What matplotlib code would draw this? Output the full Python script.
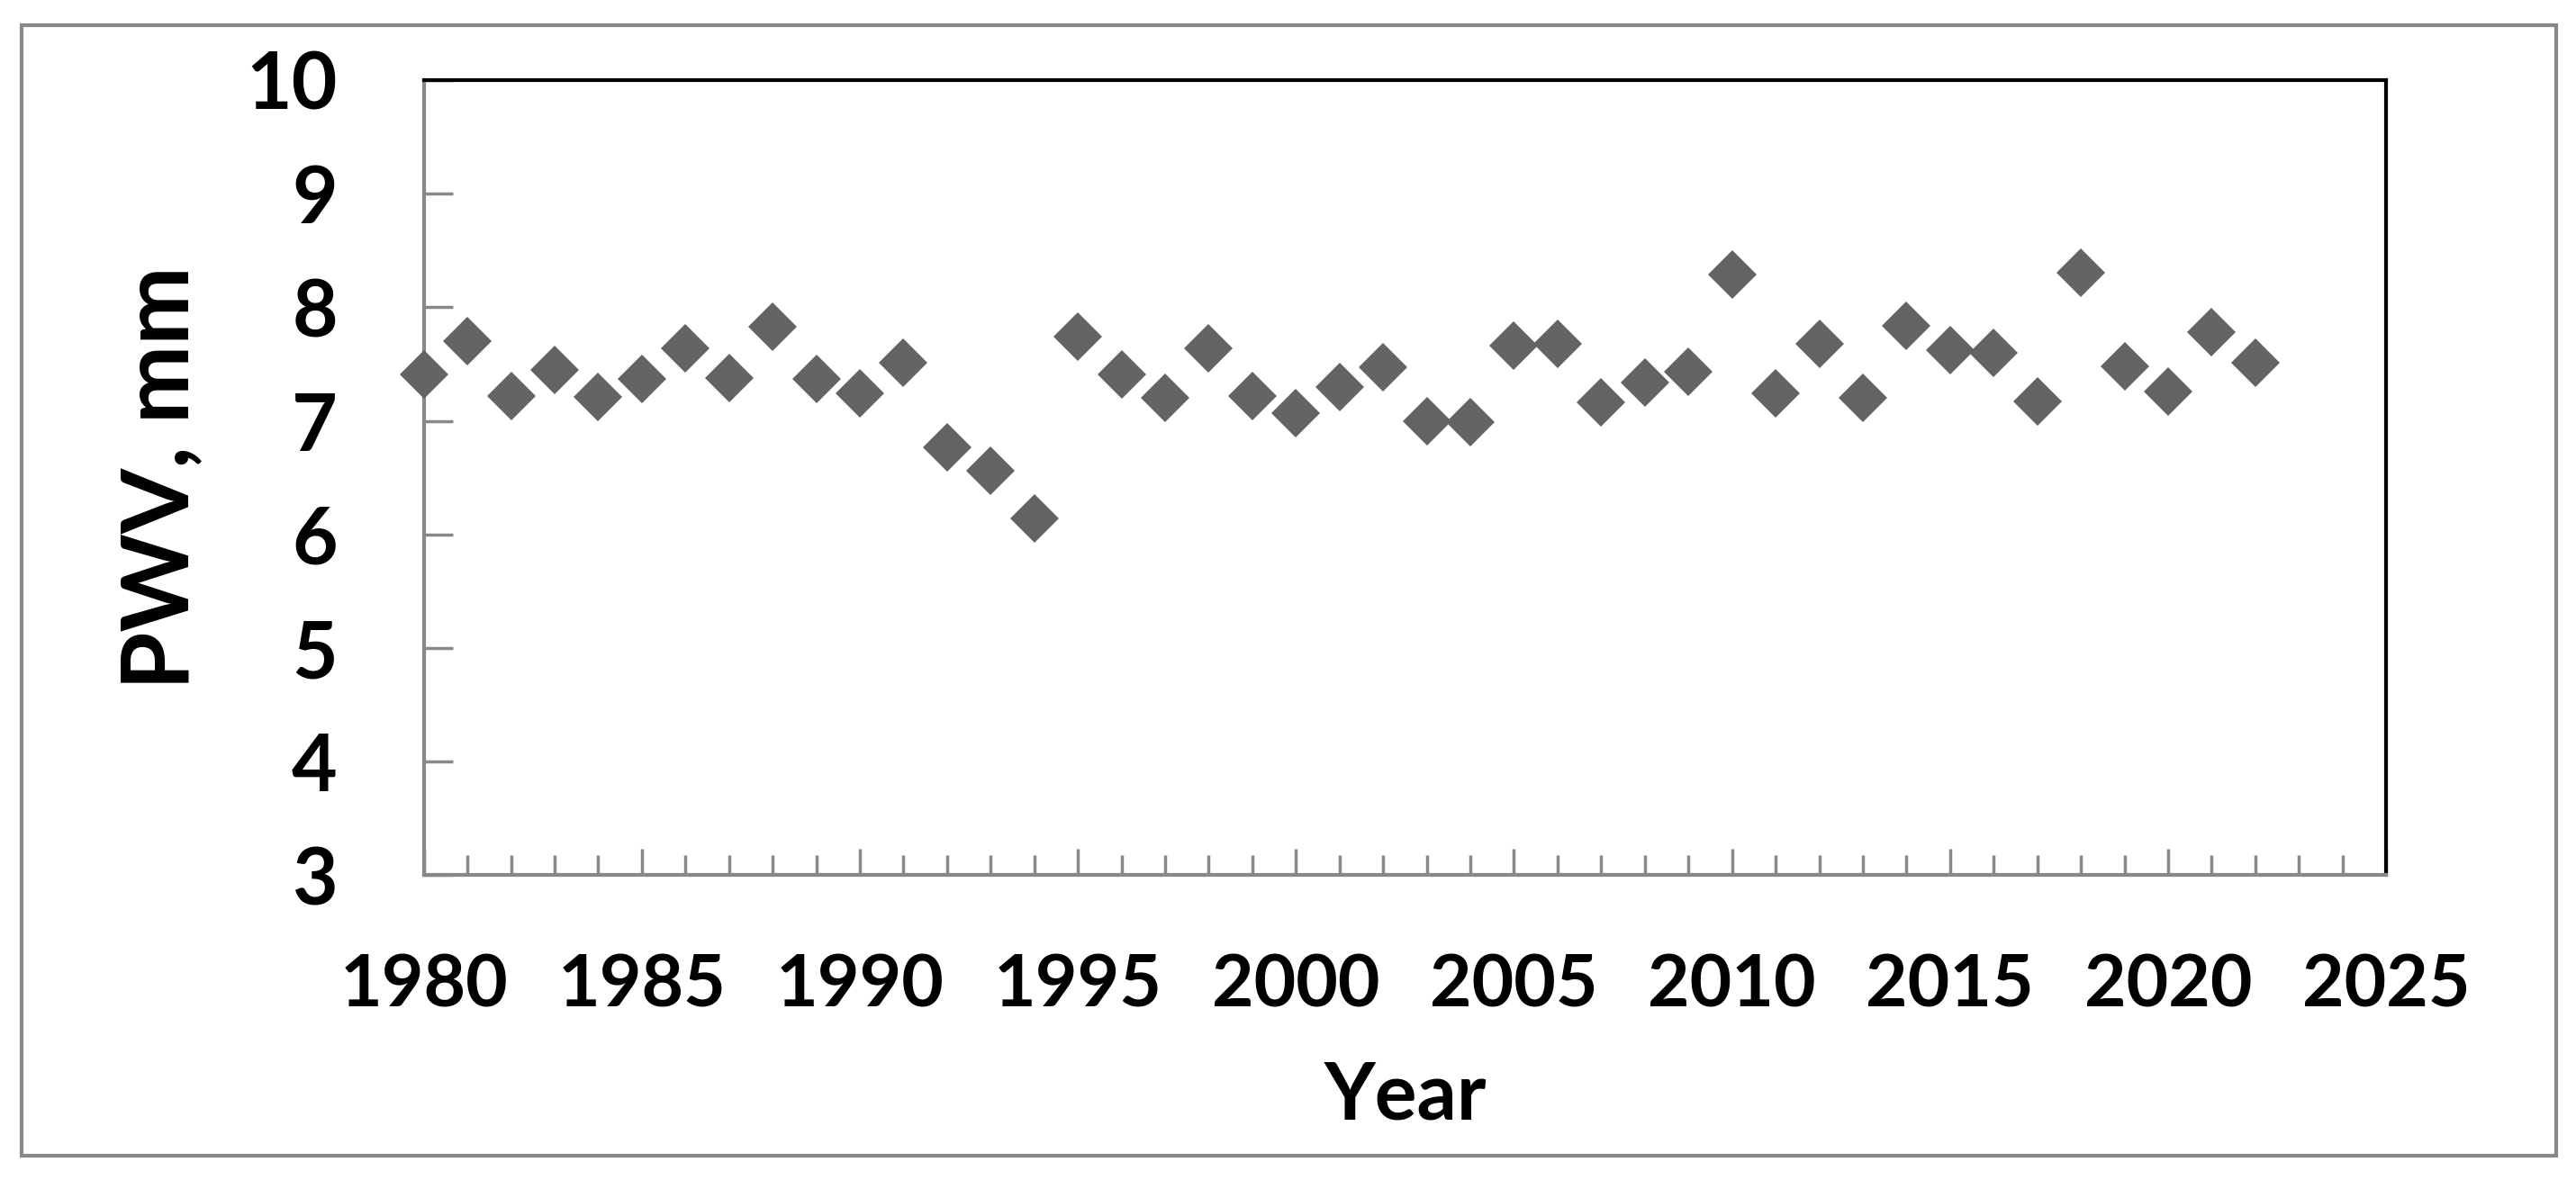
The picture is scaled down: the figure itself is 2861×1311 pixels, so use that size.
import matplotlib
matplotlib.use('Agg')
import matplotlib.pyplot as plt
from matplotlib.patches import Rectangle
from matplotlib.ticker import MultipleLocator

# PWV per year
years = [1980, 1981, 1982, 1983, 1984, 1985, 1986, 1987, 1988, 1989,
         1990, 1991, 1992, 1993, 1994, 1995, 1996, 1997, 1998, 1999,
         2000, 2001, 2002, 2003, 2004, 2005, 2006, 2007, 2008, 2009,
         2010, 2011, 2012, 2013, 2014, 2015, 2016, 2017, 2018, 2019,
         2020, 2021, 2022]
pwv = [7.41, 7.70, 7.22, 7.45, 7.21, 7.37, 7.64, 7.38, 7.83, 7.37,
       7.24, 7.51, 6.77, 6.56, 6.14, 7.74, 7.41, 7.20, 7.64, 7.22,
       7.07, 7.30, 7.47, 7.00, 6.99, 7.66, 7.68, 7.16, 7.34, 7.43,
       8.29, 7.24, 7.68, 7.20, 7.84, 7.62, 7.60, 7.17, 8.30, 7.48,
       7.26, 7.78, 7.51]

x_ticks = [1980, 1985, 1990, 1995, 2000, 2005, 2010, 2015, 2020, 2025]
y_ticks = [3, 4, 5, 6, 7, 8, 9, 10]

plt.rcParams['font.family'] = ['Lato', 'DejaVu Sans']
plt.rcParams['font.weight'] = 'bold'

gray = '#888888'

fig = plt.figure(figsize=(28.61, 13.11), dpi=100)
ax = fig.add_axes([0.1645, 0.2582, 0.7618, 0.674])

# scatter with diamond markers, drawn over the spines
ax.plot(years, pwv, linestyle='none', marker='D', markersize=27.5,
        color='#636363', markeredgewidth=0, clip_on=False, zorder=5)

ax.set_xlim(1980, 2025)
ax.set_ylim(3, 10)
ax.set_xticks(x_ticks)
ax.set_yticks(y_ticks)
ax.xaxis.set_minor_locator(MultipleLocator(1))

# Excel-like axes: gray left/bottom, black top/right
for side in ['left', 'bottom']:
    ax.spines[side].set_color(gray)
    ax.spines[side].set_linewidth(3)
for side in ['top', 'right']:
    ax.spines[side].set_color('black')
    ax.spines[side].set_linewidth(3)

ax.tick_params(axis='x', which='major', direction='in', length=21, width=2.5,
               color=gray, pad=62, labelsize=58)
ax.tick_params(axis='x', which='minor', direction='in', length=16, width=2.5,
               color=gray)
ax.tick_params(axis='y', which='major', direction='in', length=23, width=2.5,
               color=gray, pad=69, labelsize=63)

ax.set_xlabel('Year', fontsize=63, fontweight='bold')
ax.set_ylabel('PWV, mm', fontsize=75, fontweight='bold')
ax.xaxis.set_label_coords(0.5, -0.232)
ax.yaxis.set_label_coords(-0.112, 0.5)

# outer chart border
fig.add_artist(Rectangle((0.0083, 0.0206), 0.984, 0.958, transform=fig.transFigure,
                         fill=False, edgecolor=gray, linewidth=3))

fig.savefig('out.png', dpi=100)
